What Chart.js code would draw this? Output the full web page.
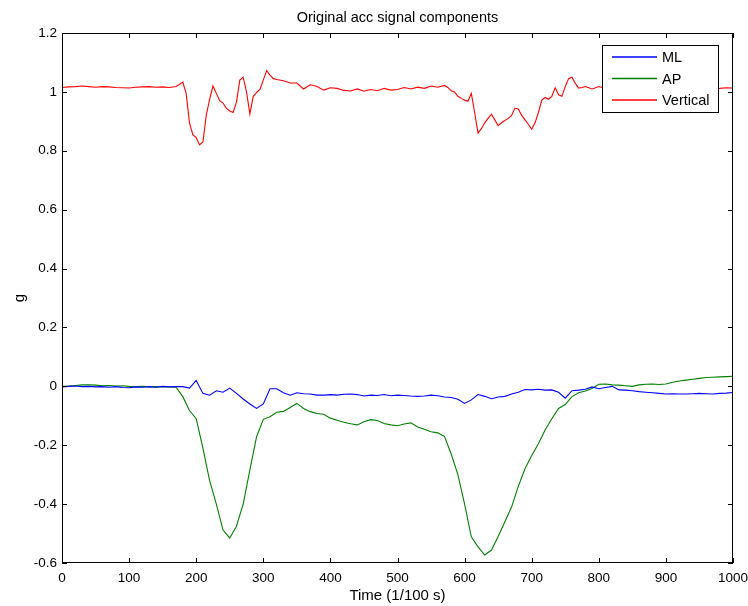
<!DOCTYPE html>
<html>
<head>
<meta charset="utf-8">
<title>Original acc signal components</title>
<script src="https://cdn.jsdelivr.net/npm/chart.js@4.4.1/dist/chart.umd.min.js"></script>
<style>
  html, body { margin: 0; padding: 0; background: #fff; }
  canvas { display: block; }
</style>
</head>
<body>
<canvas id="accChart" width="748" height="606"></canvas>
<script>
// --- DANE ---
// czas w próbkach (1/100 s), co 10 próbek
const timeSteps = [
  0, 10, 20, 30, 40, 50, 60, 70, 80, 90,
  100, 110, 120, 130, 140, 150, 160, 170, 180, 190,
  200, 210, 220, 230, 240, 250, 260, 270, 280, 290,
  300, 310, 320, 330, 340, 350, 360, 370, 380, 390,
  400, 410, 420, 430, 440, 450, 460, 470, 480, 490,
  500, 510, 520, 530, 540, 550, 560, 570, 580, 590,
  600, 610, 620, 630, 640, 650, 660, 670, 680, 690,
  700, 710, 720, 730, 740, 750, 760, 770, 780, 790,
  800, 810, 820, 830, 840, 850, 860, 870, 880, 890,
  900, 910, 920, 930, 940, 950, 960, 970, 980, 990,
  1000
];

// składowa ML (medio-lateral)
const mlValues = [
  -0.002, 0.000, 0.001, -0.001, 0.000, -0.002, -0.001, -0.003, -0.001, -0.004,
  -0.005, -0.002, -0.003, -0.001, -0.003, 0.000, -0.002, -0.001, -0.001, -0.006,
  0.020, -0.024, -0.030, -0.015, -0.020, -0.006, -0.024, -0.043, -0.060, -0.075,
  -0.060, -0.008, -0.008, -0.022, -0.030, -0.022, -0.025, -0.026, -0.030, -0.030,
  -0.028, -0.030, -0.027, -0.026, -0.028, -0.033, -0.030, -0.031, -0.028, -0.032,
  -0.030, -0.031, -0.033, -0.034, -0.033, -0.030, -0.032, -0.036, -0.038, -0.044,
  -0.058, -0.046, -0.028, -0.034, -0.042, -0.036, -0.034, -0.026, -0.020, -0.011,
  -0.012, -0.010, -0.013, -0.012, -0.020, -0.040, -0.015, -0.013, -0.010, -0.002,
  -0.008, -0.004, 0.000, -0.012, -0.013, -0.015, -0.018, -0.020, -0.022, -0.024,
  -0.026, -0.025, -0.026, -0.026, -0.025, -0.024, -0.025, -0.026, -0.024, -0.023,
  -0.021
];

// składowa AP (anterior-posterior)
const apValues = [
  0.000, 0.001, 0.003, 0.005, 0.005, 0.004, 0.002, 0.003, 0.001, 0.002,
  0.000, -0.001, 0.000, -0.002, -0.001, -0.002, -0.002, -0.003, -0.035, -0.082,
  -0.110, -0.210, -0.320, -0.400, -0.488, -0.515, -0.475, -0.400, -0.284, -0.171,
  -0.112, -0.103, -0.088, -0.085, -0.072, -0.058, -0.075, -0.086, -0.092, -0.095,
  -0.108, -0.115, -0.122, -0.127, -0.131, -0.120, -0.113, -0.116, -0.126, -0.131,
  -0.134, -0.128, -0.124, -0.138, -0.146, -0.154, -0.158, -0.170, -0.230, -0.300,
  -0.400, -0.511, -0.545, -0.573, -0.556, -0.510, -0.460, -0.410, -0.340, -0.280,
  -0.235, -0.195, -0.148, -0.110, -0.075, -0.062, -0.035, -0.022, -0.016, -0.007,
  0.007, 0.008, 0.005, 0.004, 0.002, 0.000, 0.005, 0.007, 0.008, 0.006,
  0.008, 0.014, 0.018, 0.021, 0.024, 0.027, 0.030, 0.031, 0.032, 0.033,
  0.034
];

// składowa pionowa - gęściej próbkowana tam, gdzie sygnał szybko się zmienia
const verticalTimes = [
  0, 10, 20, 30, 40, 50, 60, 70, 80, 90,
  100, 110, 120, 130, 140, 150, 160, 170, 175, 180,
  185, 190, 195, 200, 205, 210, 215, 220, 225, 230,
  235, 240, 245, 250, 255, 260, 265, 270, 275, 280,
  285, 290, 295, 300, 305, 310, 315, 320, 330, 340,
  350, 360, 370, 380, 390, 400, 410, 420, 430, 440,
  450, 460, 470, 480, 490, 500, 510, 520, 530, 540,
  550, 560, 570, 575, 580, 585, 590, 595, 600, 605,
  610, 615, 620, 625, 630, 635, 640, 645, 650, 655,
  660, 665, 670, 675, 680, 685, 690, 695, 700, 705,
  710, 715, 720, 725, 730, 735, 740, 745, 750, 755,
  760, 765, 770, 775, 780, 790, 800, 810, 820, 830,
  840, 850, 860, 870, 880, 890, 900, 910, 920, 930,
  940, 950, 960, 970, 980, 990, 1000
];
const verticalValues = [
  1.015, 1.017, 1.018, 1.020, 1.018, 1.016, 1.018, 1.017, 1.015, 1.014,
  1.013, 1.016, 1.017, 1.018, 1.016, 1.017, 1.015, 1.018, 1.025, 1.033,
  0.995, 0.895, 0.855, 0.845, 0.820, 0.830, 0.920, 0.975, 1.020, 0.995,
  0.970, 0.962, 0.944, 0.935, 0.930, 0.965, 1.040, 1.050, 1.000, 0.925,
  0.985, 0.998, 1.008, 1.040, 1.072, 1.057, 1.045, 1.042, 1.038, 1.030,
  1.030, 1.010, 1.024, 1.018, 1.006, 1.014, 1.012, 1.005, 1.003, 1.010,
  1.002, 1.008, 1.004, 1.012, 1.006, 1.008, 1.015, 1.010, 1.016, 1.012,
  1.020, 1.016, 1.022, 1.015, 1.004, 1.000, 0.985, 0.978, 0.972, 0.968,
  0.995, 0.930, 0.860, 0.875, 0.895, 0.910, 0.924, 0.905, 0.885, 0.895,
  0.903, 0.910, 0.920, 0.945, 0.942, 0.921, 0.905, 0.890, 0.873, 0.895,
  0.930, 0.972, 0.981, 0.975, 0.985, 1.014, 0.990, 0.985, 1.018, 1.045,
  1.050, 1.029, 1.013, 1.015, 1.018, 1.010, 1.018, 1.012, 1.015, 1.010,
  1.013, 1.017, 1.010, 1.012, 1.015, 1.011, 1.013, 1.016, 1.012, 1.010,
  1.014, 1.012, 1.015, 1.011, 1.012, 1.014, 1.013
];

const seriesNames = ['ML', 'AP', 'Vertical'];
const seriesColors = ['#0000ff', '#008000', '#ff0000'];

const xTicks = [0, 100, 200, 300, 400, 500, 600, 700, 800, 900, 1000];
const yTicks = [-0.6, -0.4, -0.2, 0, 0.2, 0.4, 0.6, 0.8, 1, 1.2];

const FONT = 'Liberation Sans, Arial, Helvetica, sans-serif';

function toPoints(times, values) {
  return values.map((v, i) => ({ x: times[i], y: v }));
}

// --- RAMKA, ZNACZNIKI, TYTUŁ I LEGENDA (styl MATLAB) ---
const matlabFrame = {
  id: 'matlabFrame',
  afterDraw(chart) {
    const { ctx, chartArea: a, scales } = chart;
    const tick = 5;
    ctx.save();
    ctx.strokeStyle = '#000';
    ctx.lineWidth = 1;

    // ramka osi
    ctx.strokeRect(a.left + 0.5, a.top + 0.5, a.right - a.left - 1, a.bottom - a.top - 1);

    // znaczniki do środka, na wszystkich krawędziach
    ctx.beginPath();
    xTicks.forEach(v => {
      const x = Math.round(scales.x.getPixelForValue(v)) + 0.5;
      ctx.moveTo(x, a.bottom); ctx.lineTo(x, a.bottom - tick);
      ctx.moveTo(x, a.top); ctx.lineTo(x, a.top + tick);
    });
    yTicks.forEach(v => {
      const y = Math.round(scales.y.getPixelForValue(v)) + 0.5;
      ctx.moveTo(a.left, y); ctx.lineTo(a.left + tick, y);
      ctx.moveTo(a.right, y); ctx.lineTo(a.right - tick, y);
    });
    ctx.stroke();

    // tytuł
    ctx.fillStyle = '#000';
    ctx.font = '14.5px ' + FONT;
    ctx.textAlign = 'center';
    ctx.textBaseline = 'middle';
    ctx.fillText('Original acc signal components', (a.left + a.right) / 2, 18);

    // legenda w prawym górnym rogu
    const boxW = 116, boxH = 67;
    const bx = a.right - 15 - boxW, by = a.top + 12;
    ctx.fillStyle = '#fff';
    ctx.fillRect(bx, by, boxW, boxH);
    ctx.strokeStyle = '#000';
    ctx.strokeRect(bx + 0.5, by + 0.5, boxW, boxH);
    ctx.font = '14.5px ' + FONT;
    ctx.textAlign = 'left';
    seriesNames.forEach((name, i) => {
      const y = by + 12 + i * 21.5;
      ctx.strokeStyle = seriesColors[i];
      ctx.lineWidth = 1.5;
      ctx.beginPath();
      ctx.moveTo(bx + 10, y);
      ctx.lineTo(bx + 55, y);
      ctx.stroke();
      ctx.fillStyle = '#000';
      ctx.fillText(name, bx + 60, y + 1);
    });
    ctx.restore();
  }
};

const seriesTimes = [timeSteps, timeSteps, verticalTimes];

const accChart = new Chart(document.getElementById('accChart'), {
  type: 'line',
  data: {
    datasets: [mlValues, apValues, verticalValues].map((vals, i) => ({
      label: seriesNames[i],
      data: toPoints(seriesTimes[i], vals),
      borderColor: seriesColors[i],
      borderWidth: 1.1,
      pointRadius: 0,
      tension: 0,
      fill: false
    }))
  },
  options: {
    responsive: false,
    devicePixelRatio: 1,
    animation: false,
    events: [],
    layout: { padding: { top: 33, right: 15, left: 0, bottom: 0 } },
    plugins: {
      legend: { display: false },
      tooltip: { enabled: false },
      title: { display: false }
    },
    scales: {
      x: {
        type: 'linear',
        min: 0,
        max: 1000,
        afterBuildTicks: s => { s.ticks = xTicks.map(v => ({ value: v })); },
        afterFit: s => { s.height = 43; s.paddingLeft = 0; s.paddingRight = 0; },
        grid: { display: false, drawTicks: false },
        border: { display: false },
        ticks: {
          color: '#000',
          font: { family: FONT, size: 13.5 },
          padding: 7,
          maxRotation: 0,
          autoSkip: false,
          callback: v => String(v)
        },
        title: {
          display: true,
          text: 'Time (1/100 s)',
          color: '#000',
          font: { family: FONT, size: 15 },
          padding: { top: 0, bottom: 1 }
        }
      },
      y: {
        type: 'linear',
        min: -0.6,
        max: 1.2,
        afterBuildTicks: s => { s.ticks = yTicks.map(v => ({ value: v })); },
        afterFit: s => { s.width = 62; s.paddingTop = 0; s.paddingBottom = 0; },
        grid: { display: false, drawTicks: false },
        border: { display: false },
        ticks: {
          color: '#000',
          font: { family: FONT, size: 13.5 },
          padding: 5,
          autoSkip: false,
          callback: v => String(Number(v.toFixed(1)))
        },
        title: {
          display: true,
          text: 'g',
          color: '#000',
          font: { family: FONT, size: 15 },
          padding: { top: 11, bottom: 0 }
        }
      }
    }
  },
  plugins: [matlabFrame]
});
</script>
</body>
</html>
